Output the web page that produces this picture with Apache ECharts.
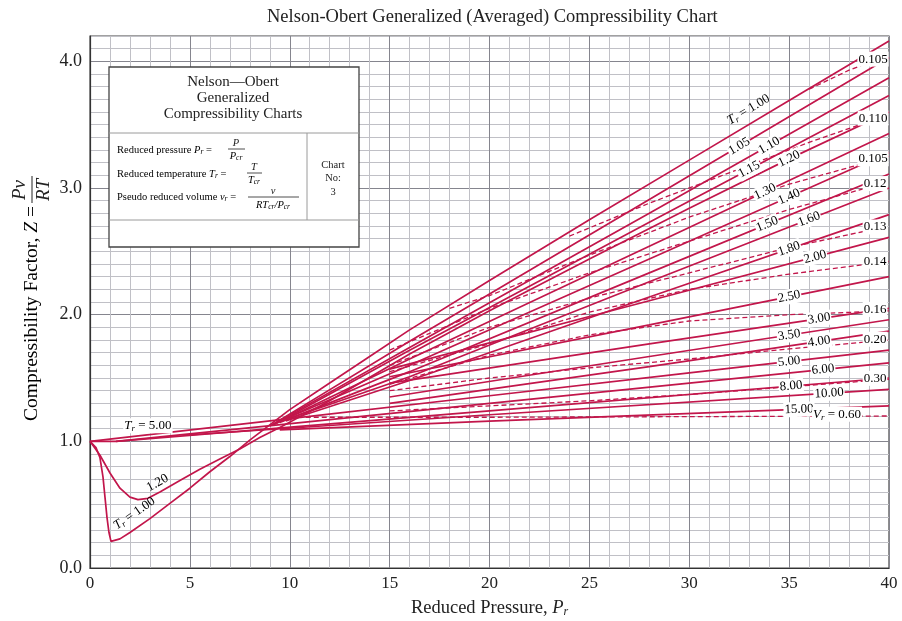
<!DOCTYPE html>
<html>
<head>
<meta charset="utf-8">
<script src="https://cdn.jsdelivr.net/npm/echarts@6/dist/echarts.min.js"></script>
<style>
  html, body { margin: 0; padding: 0; background: #fff; }
  #chart { width: 902px; height: 621px; }
</style>
</head>
<body>
<div id="chart"></div>
<script>
// ---- data: isotherms [Pr, Z] ----
const trNames = ['1.00', '1.05', '1.10', '1.15', '1.20', '1.30', '1.40', '1.50', '1.60', '1.80',
  '2.00', '2.50', '3.00', '3.50', '4.00', '5.00', '6.00', '8.00', '10.00', '15.00'];

const tr100 = [[0, 1.00], [0.3, 0.95], [0.5, 0.87], [0.65, 0.72], [0.75, 0.56], [0.85, 0.40],
  [0.95, 0.28], [1.05, 0.21], [1.15, 0.20], [1.5, 0.23], [2, 0.28], [3, 0.39], [4, 0.51],
  [5, 0.63], [6, 0.76], [7, 0.88], [8, 1.01], [9, 1.13], [10, 1.25], [12, 1.46], [14, 1.67],
  [16, 1.88], [20, 2.27], [25, 2.75], [30, 3.22], [35, 3.69], [40, 4.16]];
const tr105 = [[9.0, 1.12], [16, 1.79], [28, 2.91], [40, 4.03]];
const tr110 = [[9.1, 1.13], [16, 1.74], [28, 2.80], [40, 3.87]];
const tr115 = [[9.2, 1.13], [16, 1.72], [28, 2.73], [40, 3.73]];
const tr120 = [[0, 1.00], [0.5, 0.89], [1, 0.75], [1.5, 0.63], [2, 0.56], [2.4, 0.54], [2.9, 0.55],
  [3.5, 0.60], [4.5, 0.69], [5.5, 0.78], [6.5, 0.86], [7.5, 0.94], [8.5, 1.03], [9.5, 1.11],
  [12, 1.32], [16, 1.69], [20, 2.03], [25, 2.44], [30, 2.84], [35, 3.23], [40, 3.60]];
const tr130 = [[9.3, 1.14], [16, 1.65], [28, 2.54], [40, 3.43]];
const tr140 = [[9.4, 1.15], [16, 1.60], [28, 2.44], [40, 3.28]];
const tr150 = [[9.5, 1.15], [16, 1.55], [28, 2.33], [40, 3.11]];
const tr160 = [[9.6, 1.16], [16, 1.51], [28, 2.26], [40, 3.00]];
const tr180 = [[9.8, 1.16], [16, 1.48], [28, 2.14], [40, 2.79]];
const tr200 = [[15, 1.57], [28, 2.11], [40, 2.61]];
const tr250 = [[15, 1.51], [28, 1.92], [40, 2.30]];
const tr300 = [[15, 1.46], [28, 1.77], [40, 2.05]];
const tr350 = [[15, 1.35], [28, 1.67], [40, 1.96]];
const tr400 = [[15, 1.30], [28, 1.59], [40, 1.87]];
const tr500 = [[0, 1.00], [10, 1.18], [20, 1.36], [30, 1.54], [40, 1.72]];
const tr600 = [[0, 1.00], [1.3, 1.00], [20, 1.30], [40, 1.62]];
const tr800 = [[1.3, 1.00], [20, 1.24], [40, 1.50]];
const tr1000 = [[4.9, 1.05], [20, 1.21], [40, 1.41]];
const tr1500 = [[9.5, 1.09], [20, 1.16], [40, 1.28]];

const trCurves = [tr100, tr105, tr110, tr115, tr120, tr130, tr140, tr150, tr160, tr180,
  tr200, tr250, tr300, tr350, tr400, tr500, tr600, tr800, tr1000, tr1500];

// ---- constant pseudo reduced volume lines [Pr, Z] ----
const vrNames = ['0.105', '0.110', '0.105', '0.12', '0.13', '0.14', '0.16', '0.20', '0.30', '0.60'];
const vr0105a = [[36, 3.78], [38, 3.93], [40, 4.05]];
const vr0110 = [[24, 2.62], [28, 2.88], [32, 3.12], [36, 3.36], [40, 3.58]];
const vr0105b = [[18, 2.05], [20, 2.15], [25, 2.47], [30, 2.77], [35, 3.03], [40, 3.25]];
const vr012 = [[15, 1.72], [20, 2.05], [25, 2.33], [30, 2.58], [35, 2.83], [40, 3.05]];
const vr013 = [[15, 1.60], [20, 1.90], [25, 2.13], [30, 2.33], [35, 2.53], [40, 2.70]];
const vr014 = [[15, 1.55], [20, 1.77], [25, 2.02], [30, 2.20], [35, 2.32], [40, 2.42]];
const vr016 = [[15, 1.45], [20, 1.68], [25, 1.84], [30, 1.95], [35, 2.00], [40, 2.03]];
const vr020 = [[15, 1.40], [20, 1.50], [25, 1.58], [30, 1.65], [35, 1.73], [40, 1.80]];
const vr030 = [[15, 1.24], [20, 1.28], [25, 1.32], [30, 1.37], [35, 1.43], [40, 1.49]];
const vr060 = [[10.4, 1.19], [20, 1.19], [30, 1.195], [40, 1.20]];
const vrCurves = [vr0105a, vr0110, vr0105b, vr012, vr013, vr014, vr016, vr020, vr030, vr060];

// ---- label placement (layout) ----
const trLabelPr = [33.3, 32.5, 34, 33, 35, 33.8, 35, 33.9, 36, 35, 36.3, 35, 36.5, 35, 36.5, 35, 36.7, 35.1, 37, 35.5];
const vrLabelPr = [39.2, 39.2, 39.2, 39.3, 39.3, 39.3, 39.3, 39.3, 39.3, 37.4];

const RED = '#c2164b';
const SERIF = 'Liberation Serif';
const INK = '#222';

function interp(curve, x) {
  if (x <= curve[0][0]) return curve[0][1];
  for (let i = 1; i < curve.length; i++) {
    if (x <= curve[i][0]) {
      const a = curve[i - 1], b = curve[i];
      return a[1] + (b[1] - a[1]) * (x - a[0]) / (b[0] - a[0]);
    }
  }
  return curve[curve.length - 1][1];
}

// label items: curve, Pr, text, local offset, rotate?
const labels = [];
trNames.forEach((n, i) => {
  const text = i === 0 ? '{i|T}{s|r}{n| = 1.00}' : '{n|' + n + '}';
  labels.push({ curve: trCurves[i], pr: trLabelPr[i], text, dy: i === 0 ? -13 : 0, rotate: true, bg: i !== 0 });
});
vrNames.forEach((n, i) => {
  const text = i === vrNames.length - 1 ? '{i|V}{s|r}{n| = ' + n + '}' : '{n|' + n + '}';
  labels.push({ curve: vrCurves[i], pr: vrLabelPr[i], text, dy: -2, rotate: false, bg: true });
});
// low-pressure labels
labels.push({ curve: tr500, pr: 2.9, text: '{i|T}{s|r}{n| = 5.00}', dy: -9, rotate: false, bg: true });
labels.push({ curve: tr120, pr: 3.6, text: '{n|1.20}', dy: -9, rotate: true, bg: false });
labels.push({ curve: tr100, pr: 2.6, text: '{i|T}{s|r}{n| = 1.00}', dy: -13, rotate: true, bg: false });

const chart = echarts.init(document.getElementById('chart'), null, { renderer: 'canvas' });

const series = [];
trCurves.forEach((c, i) => {
  series.push({
    type: 'line', name: 'Tr ' + trNames[i], data: c, showSymbol: false, silent: true,
    lineStyle: { color: RED, width: 1.7 }, z: 3
  });
});
vrCurves.forEach((c, i) => {
  series.push({
    type: 'line', name: 'Vr ' + vrNames[i], data: c, showSymbol: false, silent: true,
    lineStyle: { color: RED, width: 1.3, type: [5, 3] }, z: 3
  });
});
series.push({
  type: 'custom', silent: true, z: 10,
  data: labels.map(l => [l.pr, interp(l.curve, l.pr)]),
  renderItem(params, api) {
    const l = labels[params.dataIndex];
    const p = api.coord([api.value(0), api.value(1)]);
    let rot = 0;
    if (l.rotate) {
      const a = api.coord([l.pr - 0.4, interp(l.curve, l.pr - 0.4)]);
      const b = api.coord([l.pr + 0.4, interp(l.curve, l.pr + 0.4)]);
      rot = Math.atan2(a[1] - b[1], b[0] - a[0]);
    }
    return {
      type: 'text', x: p[0], y: p[1], rotation: rot,
      style: {
        text: l.text, x: 0, y: l.dy, align: 'center', verticalAlign: 'middle',
        backgroundColor: l.bg ? '#fff' : 'transparent', padding: [0, 1],
        rich: {
          n: { fontFamily: SERIF, fontSize: 13, color: INK, lineHeight: 15 },
          i: { fontFamily: SERIF, fontSize: 13, fontStyle: 'italic', color: INK, lineHeight: 15 },
          s: { fontFamily: SERIF, fontSize: 9, fontStyle: 'italic', color: INK, lineHeight: 15, verticalAlign: 'bottom' }
        }
      }
    };
  }
});

const majorC = '#85858e', minorC = '#c0c0c6';

// small helpers for the info box text
const boxRich = {
  n: { fontFamily: SERIF, fontSize: 10.5, color: INK },
  i: { fontFamily: SERIF, fontSize: 10.5, fontStyle: 'italic', color: INK },
  s: { fontFamily: SERIF, fontSize: 7.5, fontStyle: 'italic', color: INK, verticalAlign: 'bottom', padding: [5, 0, 0, 0] }
};
function txt(x, y, text, size, align, italic) {
  return { type: 'text', x, y, z: 100, style: { text, fontFamily: SERIF, fontSize: size, fontStyle: italic ? 'italic' : 'normal',
    fill: INK, align: align || 'center', verticalAlign: 'middle' } };
}
function rtxt(x, y, text, align) {
  return { type: 'text', x, y, z: 100, style: { text, align: align || 'center', verticalAlign: 'middle', rich: boxRich } };
}
function seg(x1, y1, x2, y2, color, w) {
  return { type: 'line', z: 100, shape: { x1, y1, x2, y2 }, style: { stroke: color, lineWidth: w } };
}

chart.setOption({
  animation: false,
  backgroundColor: '#fff',
  title: {
    text: 'Nelson-Obert Generalized (Averaged) Compressibility Chart',
    left: 262, top: 3,
    textStyle: { fontFamily: SERIF, fontSize: 18.5, fontWeight: 'normal', color: INK }
  },
  grid: { left: 90, right: 13, top: 36, bottom: 53, outerBoundsMode: 'none', show: true, borderColor: '#444', borderWidth: 1.2, backgroundColor: '#fff' },
  xAxis: {
    type: 'value', min: 0, max: 40, interval: 1,
    name: '{n|Reduced Pressure, }{i|P}{s|r}', nameLocation: 'middle', nameGap: 31,
    nameTextStyle: {
      rich: {
        n: { fontFamily: SERIF, fontSize: 18.5, color: INK },
        i: { fontFamily: SERIF, fontSize: 18.5, fontStyle: 'italic', color: INK },
        s: { fontFamily: SERIF, fontSize: 12, fontStyle: 'italic', color: INK, verticalAlign: 'bottom', padding: [7, 0, 0, 0] }
      }
    },
    axisLine: { lineStyle: { color: '#333', width: 1.2 } },
    axisTick: { show: false },
    axisLabel: {
      fontFamily: SERIF, fontSize: 17, color: INK, margin: 7,
      formatter: v => (Math.round(v) % 5 === 0 ? String(Math.round(v)) : '')
    },
    splitLine: { show: true, showMinLine: true, showMaxLine: true, lineStyle: { color: [majorC, minorC, minorC, minorC, minorC], width: 1 } }
  },
  yAxis: {
    type: 'value', min: 0, max: 4.2, interval: 0.1,
    axisLine: { lineStyle: { color: '#333', width: 1.2 } },
    axisTick: { show: false },
    axisLabel: {
      fontFamily: SERIF, fontSize: 18, color: INK, margin: 8,
      formatter: v => (Math.abs(v - Math.round(v)) < 1e-6 ? v.toFixed(1) : '')
    },
    splitLine: { show: true, showMinLine: true, showMaxLine: true, lineStyle: { color: [majorC, minorC, minorC, minorC, minorC, minorC, minorC, minorC, minorC, minorC], width: 1 } }
  },
  graphic: [
    // y axis title, rotated
    {
      type: 'group', x: 32, y: 303, rotation: Math.PI / 2,
      children: [
        { type: 'text', x: 97, y: 0, style: { text: '{n|Compressibility Factor, }{i|Z}{n| =}', align: 'right', verticalAlign: 'middle',
          rich: { n: { fontFamily: SERIF, fontSize: 19.5, color: INK }, i: { fontFamily: SERIF, fontSize: 19.5, fontStyle: 'italic', color: INK } } } },
        { type: 'text', x: 113, y: -12, style: { text: 'Pv', fontFamily: SERIF, fontSize: 19, fontStyle: 'italic', fill: INK, align: 'center', verticalAlign: 'middle' } },
        { type: 'line', shape: { x1: 100, y1: 0, x2: 127, y2: 0 }, style: { stroke: INK, lineWidth: 1 } },
        { type: 'text', x: 113, y: 12, style: { text: 'RT', fontFamily: SERIF, fontSize: 19, fontStyle: 'italic', fill: INK, align: 'center', verticalAlign: 'middle' } }
      ]
    },
    // info box
    {
      type: 'group', x: 109, y: 67,
      children: [
        { type: 'rect', z: 99, shape: { x: 0, y: 0, width: 250, height: 180 }, style: { fill: '#fff', stroke: '#444', lineWidth: 1.3 } },
        seg(0, 66, 250, 66, '#9a9a9a', 1),
        seg(198, 66, 198, 153, '#9a9a9a', 1),
        seg(0, 153, 250, 153, '#9a9a9a', 1),
        txt(124, 15, 'Nelson\u2014Obert', 15),
        txt(124, 31, 'Generalized', 15),
        txt(124, 47, 'Compressibility Charts', 15),
        // row 1
        rtxt(8, 83, '{n|Reduced pressure }{i|P}{s|r}{n| =}', 'left'),
        txt(127, 76, 'P', 10.5, 'center', true),
        seg(119, 82, 136, 82, INK, 0.8),
        rtxt(127, 89, '{i|P}{s|cr}'),
        // row 2
        rtxt(8, 107, '{n|Reduced temperature }{i|T}{s|r}{n| =}', 'left'),
        txt(145, 100, 'T', 10.5, 'center', true),
        seg(138, 106, 153, 106, INK, 0.8),
        rtxt(145, 113, '{i|T}{s|cr}'),
        // row 3
        rtxt(8, 130, '{n|Pseudo reduced volume }{i|v}{s|r}{n| =}', 'left'),
        txt(164, 124, 'v', 10.5, 'center', true),
        seg(139, 130, 190, 130, INK, 0.8),
        rtxt(164, 138, '{i|RT}{s|cr}{i|/P}{s|cr}'),
        // chart number
        txt(224, 98, 'Chart', 10.5),
        txt(224, 111, 'No:', 10.5),
        txt(224, 125, '3', 10.5)
      ]
    }
  ],
  series
});
</script>
</body>
</html>
